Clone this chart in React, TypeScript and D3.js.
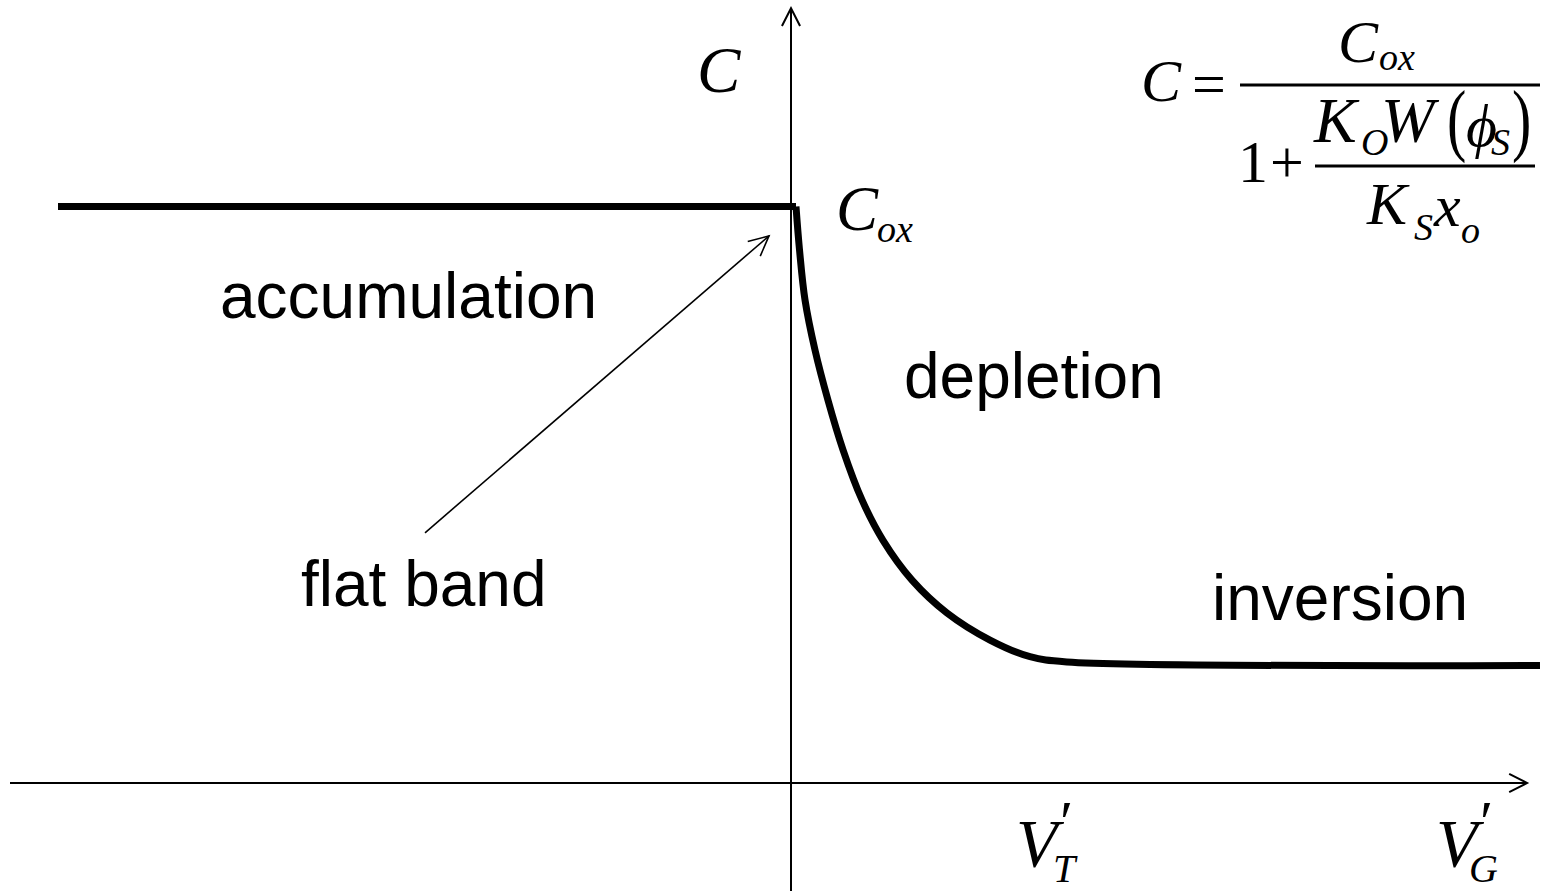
import React from "react";
import * as d3 from "d3";

// Gate voltage (arbitrary units, 0 = flat band) and normalised capacitance C/Cox
const accumV = [-7.33, 0.05];
const accumC = [1.0, 1.0];

const depV = [0.05, 0.085, 0.14, 0.24, 0.37, 0.52, 0.71, 0.92, 1.21, 1.56, 1.99, 2.39, 2.76, 7.49];
const depC = [1.0, 0.925, 0.838, 0.751, 0.664, 0.578, 0.491, 0.421, 0.352, 0.295, 0.248, 0.219, 0.21, 0.204];

// Axis extents in data units
const hAxisV = [-7.81, 7.36];
const vAxisC = [-0.19, 1.344];

// Flat-band pointer: tail and head in data units
const flatBandV = [-3.66, -0.22];
const flatBandC = [0.434, 0.949];

const regionLabels = ["accumulation", "depletion", "flat band", "inversion"];

const W = 1551;
const H = 891;

const x = d3.scaleLinear().domain([-7.81, 7.49]).range([10, 1540]);
const y = d3.scaleLinear().domain([0, 1]).range([783, 206.5]);

const SANS = "'Liberation Sans', Arial, sans-serif";
const SERIF = "'Liberation Serif', 'Times New Roman', serif";

function arrowHead(x1: number, y1: number, x2: number, y2: number, len: number, half: number) {
  const a = Math.atan2(y2 - y1, x2 - x1);
  const p = (s: number) => {
    const ang = a + Math.PI + s * half;
    return [x2 + len * Math.cos(ang), y2 + len * Math.sin(ang)];
  };
  const [ax, ay] = p(1);
  const [bx, by] = p(-1);
  return `M${ax},${ay}L${x2},${y2}L${bx},${by}`;
}

// Tall thin bracket drawn from a normal-size glyph stretched vertically
function Paren({ ch, px, base }: { ch: string; px: number; base: number }) {
  return (
    <text
      transform={`translate(${px},${base}) scale(1,1.38)`}
      fontSize={58}
      fontStyle="normal"
    >
      {ch}
    </text>
  );
}

export default function App() {
  const line = d3
    .line<[number, number]>()
    .x((d) => x(d[0]))
    .y((d) => y(d[1]));
  const curve = d3
    .line<[number, number]>()
    .x((d) => x(d[0]))
    .y((d) => y(d[1]))
    .curve(d3.curveCatmullRom.alpha(0.5));

  const accumPts = accumV.map((v, i) => [v, accumC[i]] as [number, number]);
  const depPts = depV.map((v, i) => [v, depC[i]] as [number, number]);

  const x0 = x(0);
  const y0 = y(0);
  const hx1 = x(hAxisV[0]);
  const hx2 = x(hAxisV[1]);
  const vy1 = y(vAxisC[0]);
  const vy2 = y(vAxisC[1]);

  const fbx1 = x(flatBandV[0]);
  const fby1 = y(flatBandC[0]);
  const fbx2 = x(flatBandV[1]);
  const fby2 = y(flatBandC[1]);

  return (
    <svg
      width={W}
      height={H}
      viewBox={`0 0 ${W} ${H}`}
      style={{ position: "absolute", left: 0, top: 0, background: "#fff" }}
    >
      <rect width={W} height={H} fill="#fff" />

      {/* axes */}
      <g stroke="#000" strokeWidth={2} fill="none">
        <line x1={hx1} y1={y0} x2={hx2} y2={y0} />
        <path d={arrowHead(hx1, y0, hx2, y0, 20, 0.47)} />
        <line x1={x0} y1={vy1} x2={x0} y2={vy2} />
        <path d={arrowHead(x0, vy1, x0, vy2, 20, 0.47)} />
      </g>

      {/* C-V curve */}
      <g stroke="#000" strokeWidth={7} fill="none">
        <path d={line(accumPts) || ""} strokeLinecap="butt" />
        <path d={curve(depPts) || ""} strokeLinecap="butt" strokeLinejoin="miter" />
      </g>

      {/* flat-band pointer */}
      <g stroke="#000" strokeWidth={1.6} fill="none">
        <line x1={fbx1} y1={fby1} x2={fbx2} y2={fby2} />
        <path d={arrowHead(fbx1, fby1, fbx2, fby2, 22, 0.45)} />
      </g>

      {/* region labels */}
      <g fontFamily={SANS} fontSize={64} fill="#000">
        <text x={220} y={318}>{regionLabels[0]}</text>
        <text x={904} y={398}>{regionLabels[1]}</text>
        <text x={301} y={606}>{regionLabels[2]}</text>
        <text x={1212} y={620}>{regionLabels[3]}</text>
      </g>

      {/* axis symbols */}
      <g fontFamily={SERIF} fontStyle="italic" fill="#000">
        <text x={697} y={92} fontSize={65}>C</text>
        <text x={836} y={230} fontSize={63}>C</text>
        <text x={877} y={242} fontSize={38}>ox</text>

        <text x={1016} y={866} fontSize={68}>V</text>
        <text x={1060} y={842} fontSize={60} fontStyle="normal">′</text>
        <text x={1053} y={882} fontSize={40}>T</text>

        <text x={1436} y={866} fontSize={68}>V</text>
        <text x={1480} y={842} fontSize={60} fontStyle="normal">′</text>
        <text x={1469} y={882} fontSize={40}>G</text>
      </g>

      {/* C = Cox / (1 + Ko W(phi_s) / (Ks xo)) */}
      <g fontFamily={SERIF} fill="#000" fontSize={60}>
        <text x={1141} y={101} fontStyle="italic">C</text>
        <text x={1192} y={104}>=</text>
        <line x1={1240} y1={85} x2={1540} y2={85} stroke="#000" strokeWidth={3} />
        <text x={1338} y={62} fontStyle="italic">C</text>
        <text x={1379} y={70} fontStyle="italic" fontSize={38}>ox</text>

        <text x={1238} y={182}>1</text>
        <text x={1270} y={182}>+</text>
        <line x1={1315} y1={166} x2={1535} y2={166} stroke="#000" strokeWidth={3} />

        <text x={1314} y={142} fontStyle="italic" fontSize={64}>K</text>
        <text x={1361} y={155} fontStyle="italic" fontSize={38}>O</text>
        <text x={1381} y={142} fontStyle="italic" fontSize={64}>W</text>
        <Paren ch="(" px={1447} base={146} />
        <text x={1466} y={146} fontStyle="italic">ϕ</text>
        <text x={1491} y={155} fontStyle="italic" fontSize={38}>S</text>
        <Paren ch=")" px={1512} base={146} />

        <text x={1367} y={224} fontStyle="italic" fontSize={60}>K</text>
        <text x={1414} y={240} fontStyle="italic" fontSize={38}>S</text>
        <text x={1434} y={226} fontStyle="italic" fontSize={60}>x</text>
        <text x={1461} y={243} fontStyle="italic" fontSize={38}>o</text>
      </g>
    </svg>
  );
}
